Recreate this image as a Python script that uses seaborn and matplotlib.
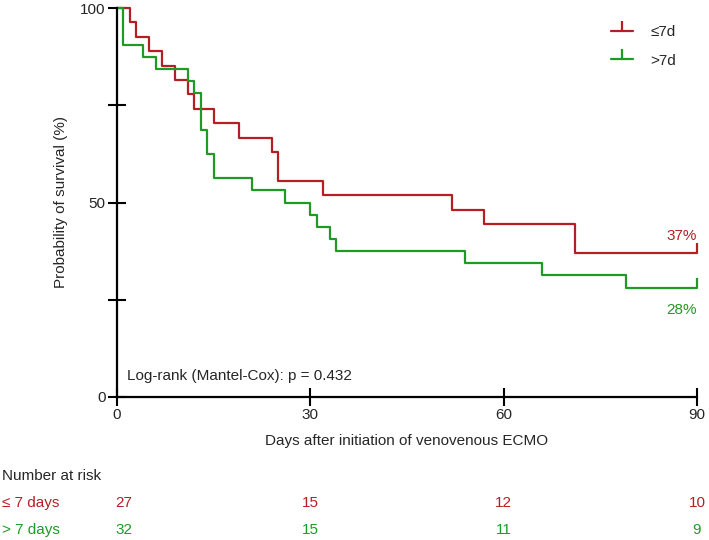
import numpy as np
import pandas as pd
import matplotlib
matplotlib.use("Agg")
import matplotlib.pyplot as plt
import seaborn as sns
from matplotlib.lines import Line2D
from matplotlib.transforms import blended_transform_factory

# survival steps (day of drop, % surviving after it)
short_days = [2, 3, 5, 7, 9, 11, 12, 15, 19, 24, 25, 32, 52, 57, 71]
short_surv = [96.3, 92.6, 88.9, 85.2, 81.5, 77.8, 74.1, 70.4, 66.7, 63.0,
              55.6, 51.9, 48.1, 44.4, 37.0]
long_days = [1, 4, 6, 11, 12, 13, 14, 15, 21, 26, 30, 31, 33, 34, 54, 66, 79]
long_surv = [90.6, 87.5, 84.4, 81.25, 78.1, 68.75, 62.5, 56.25, 53.1, 50.0,
             46.9, 43.75, 40.6, 37.5, 34.4, 31.25, 28.1]

groups = ["≤7d", ">7d"]
risk_labels = ["≤ 7 days", "> 7 days"]
risk_days = [0, 30, 60, 90]
risk_short = [27, 15, 12, 10]
risk_long = [32, 15, 11, 9]
end_day = 90

RED = "#b41f24"
GREEN = "#1f9a24"
palette = {groups[0]: RED, groups[1]: GREEN}


def km_frame(days, surv, name):
    x = [0] + list(days) + [end_day]
    y = [100.0] + list(surv) + [surv[-1]]
    return pd.DataFrame({"day": x, "surv": y, "group": name})


df = pd.concat([km_frame(short_days, short_surv, groups[0]),
                km_frame(long_days, long_surv, groups[1])], ignore_index=True)

sns.set_style("ticks")
plt.rcParams["font.family"] = ["Liberation Sans", "DejaVu Sans"]
plt.rcParams["font.size"] = 11

fig = plt.figure(figsize=(7.09, 5.40), dpi=100)
ax = fig.add_axes([117 / 709, 143 / 540, 580 / 709, 389 / 540])

sns.lineplot(data=df, x="day", y="surv", hue="group", palette=palette,
             hue_order=groups, drawstyle="steps-post", estimator=None,
             sort=False, linewidth=1.6, legend=False, ax=ax)
for line in ax.lines:
    line.set_clip_on(False)

# censor ticks at the end of follow-up
for g in groups:
    last = df[df["group"] == g].iloc[-1]
    ax.plot(last["day"], last["surv"], marker=2, markersize=7, mew=1.6,
            color=palette[g], clip_on=False)
    ax.text(end_day, last["surv"] + (4.3 if g == groups[0] else -5.8),
            f"{round(last['surv'])}%", color=palette[g], ha="right",
            va="center", fontsize=11)

ax.set_xlim(0, end_day)
ax.set_ylim(0, 100)
ax.set_xticks(risk_days)
ax.set_yticks([0, 50, 100])
ax.set_yticks([25, 75], minor=True)
ax.tick_params(axis="both", which="both", direction="inout", length=12.5,
               width=1.5, color="black", labelsize=11, pad=2)
for side in ["left", "bottom"]:
    ax.spines[side].set_linewidth(1.6)
    ax.spines[side].set_color("black")
sns.despine(ax=ax)

ax.set_xlabel("Days after initiation of venovenous ECMO", fontsize=11)
ax.set_ylabel("Probability of survival (%)", fontsize=11)
ax.xaxis.set_label_coords(0.5, -0.095)
ax.yaxis.set_label_coords(-0.085, 0.5)

ax.text(1.5, 5.4, "Log-rank (Mantel-Cox): p = 0.432", fontsize=11, va="center")

handles = [Line2D([], [], color=palette[g], lw=1.6, marker=2, markersize=7, mew=1.6)
           for g in groups]
ax.legend(handles, groups, loc="upper left", frameon=False, numpoints=1,
          bbox_to_anchor=(611 / 709, 1 - 25 / 540), bbox_transform=fig.transFigure,
          borderpad=0, borderaxespad=0, handlelength=1.45, handletextpad=1.15,
          labelspacing=0.95, fontsize=11)

# number at risk table
tr = blended_transform_factory(ax.transData, fig.transFigure)
fig.text(2 / 709, 1 - 476 / 540, "Number at risk", fontsize=11, va="center")
for row, (label, counts, col) in enumerate(zip(risk_labels, [risk_short, risk_long],
                                               [RED, GREEN])):
    yf = 1 - (503 + 27 * row) / 540
    fig.text(2 / 709, yf, label, fontsize=11, va="center", color=col)
    for d, n in zip(risk_days, counts):
        ax.text(d + (1.1 if d == 0 else 0), yf, str(n), transform=tr, fontsize=11,
                va="center", ha="center", color=col)

fig.savefig("out.png", dpi=100)
